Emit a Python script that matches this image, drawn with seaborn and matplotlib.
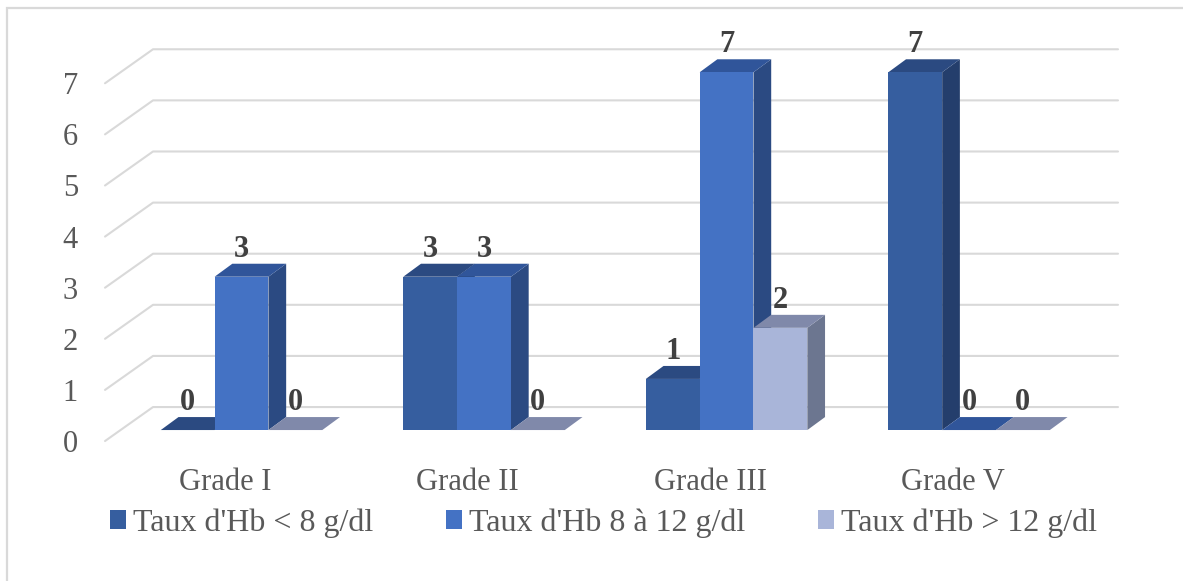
import numpy as np
import pandas as pd
import matplotlib
matplotlib.use("Agg")
import matplotlib.pyplot as plt
from matplotlib.patches import Polygon, Rectangle
from matplotlib.lines import Line2D
import seaborn as sns

# ---- data -------------------------------------------------------------
grades = ["Grade I", "Grade II", "Grade III", "Grade V"]
series = ["Taux d'Hb < 8 g/dl", "Taux d'Hb 8 à 12 g/dl", "Taux d'Hb > 12 g/dl"]
hb_low = [0, 3, 1, 7]
hb_mid = [3, 3, 7, 0]
hb_high = [0, 0, 2, 0]
y_ticks = [0, 1, 2, 3, 4, 5, 6, 7]

# ---- style ------------------------------------------------------------
front_colors = ["#365E9F", "#4472C4", "#A9B5D9"]
top_colors = ["#2B4A81", "#30559A", "#8089AA"]
side_colors = ["#243E6C", "#2B4A82", "#6C7690"]
grid_color = "#D9D9D9"
text_color = "#595959"
label_color = "#404040"

df = pd.DataFrame({
    "grade": grades * 3,
    "series": np.repeat(series, len(grades)),
    "count": hb_low + hb_mid + hb_high,
})

sns.set_theme(style="white")
plt.rcParams["font.family"] = ["Liberation Serif", "DejaVu Serif"]

W, H = 1183, 581
fig = plt.figure(figsize=(W / 100, H / 100), dpi=100)
fig.patch.set_facecolor("white")

# light frame around the chart area
fig.patches.append(Rectangle((7 / W, -0.1), 1.2, 1.1 - 8 / H, transform=fig.transFigure,
                             fill=False, edgecolor=grid_color, linewidth=1.6))

ax = fig.add_axes([105 / W, 1 - 455.6 / H, (1118 - 105) / W, (455.6 - 41.6) / H])
ax.set_facecolor("none")

sns.barplot(data=df, x="grade", y="count", hue="series", order=grades,
            hue_order=series, palette=front_colors, saturation=1, width=0.666,
            errorbar=None, linewidth=0, ax=ax)

x_lo, x_hi = -0.563, 3.614
y_lo, y_hi = -0.5, 7.6
ax.set_xlim(x_lo, x_hi)
ax.set_ylim(y_lo, y_hi)

# depth vectors (data units) for the pseudo-3D look
bar_depth = np.array([0.073, 0.254])
floor_front = np.array([-0.0619, -0.215])
floor_back = np.array([0.136, 0.450])
wall_x = -0.501

# gridlines: diagonal on the side floor + horizontal on the back wall
for k in y_ticks:
    p0 = (wall_x + floor_front[0], k + floor_front[1])
    p1 = (wall_x + floor_back[0], k + floor_back[1])
    p2 = (x_hi, k + floor_back[1])
    ax.add_line(Line2D([p0[0], p1[0], p2[0]], [p0[1], p1[1], p2[1]],
                       color=grid_color, linewidth=1.5, zorder=1, clip_on=False))

# side and top faces for every bar, stacked left to right
for h_idx, cont in enumerate(ax.containers):
    for g_idx, bar in enumerate(cont):
        x0 = bar.get_x()
        w = bar.get_width()
        v = bar.get_height()
        x1 = x0 + w
        dx, dy = bar_depth
        rank = g_idx * 3 + h_idx
        z = 3 + rank * 0.01
        side = Polygon([(x1, 0), (x1, v), (x1 + dx, v + dy), (x1 + dx, dy)],
                       closed=True, facecolor=side_colors[h_idx], edgecolor="none",
                       zorder=z, clip_on=False)
        top = Polygon([(x0, v), (x1, v), (x1 + dx, v + dy), (x0 + dx, v + dy)],
                      closed=True, facecolor=top_colors[h_idx], edgecolor="none",
                      zorder=z + 0.001, clip_on=False)
        ax.add_patch(side)
        ax.add_patch(top)
        bar.set_zorder(z + 0.002)
        bar.set_clip_on(False)
        ax.annotate(f"{v:g}", (x0 + w / 2, v), xytext=(0, 14.4),
                    textcoords="offset points", ha="center", va="baseline",
                    fontsize=22, fontweight="bold", color=label_color, zorder=20,
                    annotation_clip=False)

# axes cosmetics
for s in ax.spines.values():
    s.set_visible(False)
ax.grid(False)
ax.set_xlabel("")
ax.set_ylabel("")
ax.set_yticks(np.array(y_ticks) + floor_front[1], labels=[str(t) for t in y_ticks])
ax.set_xticks(np.arange(len(grades)) - 0.068, labels=grades)
ax.tick_params(axis="y", length=0, pad=19.4, labelsize=22, labelcolor=text_color)
ax.tick_params(axis="x", length=0, pad=8.9, labelsize=22, labelcolor=text_color)

sns.move_legend(ax, "center", bbox_to_anchor=(603.5 / W, 1 - 523 / H),
                bbox_transform=fig.transFigure, ncol=3, frameon=False, title=None,
                fontsize=23, handlelength=0.5, handleheight=0.5,
                handletextpad=0.2, columnspacing=2.3, labelcolor=text_color)

fig.savefig("out.png", dpi=100, facecolor="white")
